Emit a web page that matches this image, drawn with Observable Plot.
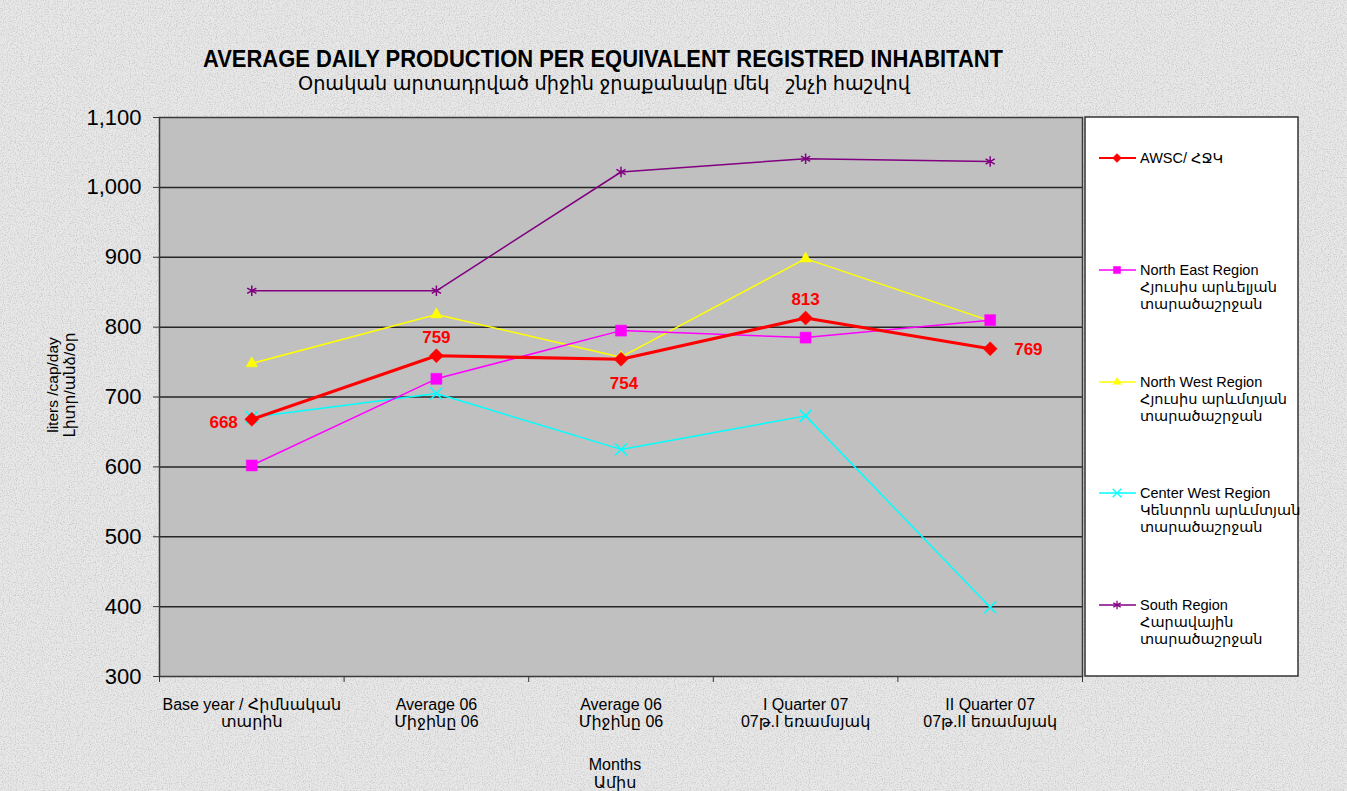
<!DOCTYPE html>
<html><head><meta charset="utf-8">
<script src="https://cdn.jsdelivr.net/npm/d3@7"></script>
<script src="https://cdn.jsdelivr.net/npm/@observablehq/plot@0.6"></script>
<style>
html,body{margin:0;padding:0;width:1347px;height:791px;overflow:hidden;background:#e4e4e4;}
#wrap{position:relative;width:1347px;height:791px;}
#wrap > svg{position:absolute;left:0;top:0;}
text{white-space:pre;}
</style></head><body><div id="wrap"></div>
<script>
// ---- data ----
const categories = [
  "Base year / Հիմնական\nտարին",
  "Average 06\nՄիջինը 06",
  "Average 06\nՄիջինը 06",
  "I Quarter 07\n07թ.I եռամսյակ",
  "II Quarter 07\n07թ.II եռամսյակ"
];
const awsc       = [668, 759, 754, 813, 769];
const northEast  = [602, 726, 795, 785, 810];
const northWest  = [748, 818, 757, 898, 809];
const centerWest = [671, 705, 625, 673, 399];
const south      = [852, 852, 1022, 1041, 1037];
const yTicks = [300, 400, 500, 600, 700, 800, 900, 1000, 1100];
const seriesNames = [
  ["AWSC/ ՀՋԿ"],
  ["North East Region", "Հյուսիս արևելյան", "տարածաշրջան"],
  ["North West Region", "Հյուսիս արևմտյան", "տարածաշրջան"],
  ["Center West Region", "Կենտրոն արևմտյան", "տարածաշրջան"],
  ["South Region", "Հարավային", "տարածաշրջան"]
];
const titleLines = ["AVERAGE DAILY PRODUCTION PER EQUIVALENT REGISTRED INHABITANT", "Օրական արտադրված միջին ջրաքանակը մեկ   շնչի հաշվով"];
const yLabel = ["liters /cap/day", "Լիտր/անձ/օր"];
const xLabel = ["Months", "Ամիս"];

// ---- styles ----
const styles = [
  {values: awsc,       color: "#ff0000", symbol: "diamond2", filled: true,  r: 6.3, w: 3.2, lr: 4},
  {values: northEast,  color: "#ff00ff", symbol: "square",   filled: true,  r: 6.2, w: 1.5, lr: 4},
  {values: northWest,  color: "#ffff00", symbol: "triangle", filled: true,  r: 4.3, w: 1.5, lr: 3},
  {values: centerWest, color: "#00ffff", symbol: "times",    filled: false, r: 5.5, w: 1.5, lr: 4},
  {values: south,      color: "#800080", symbol: "asterisk", filled: false, r: 5,   w: 1.5, lr: 4}
];
const FONT = "'Liberation Sans', Arial, 'DejaVu Sans', sans-serif";

const wrap = d3.select("#wrap");

// background texture
const bg = wrap.append("svg").attr("width", 1347).attr("height", 791);
const f = bg.append("defs").append("filter").attr("id", "noise").attr("x", 0).attr("y", 0).attr("width", "100%").attr("height", "100%")
  .attr("filterUnits", "userSpaceOnUse");
f.append("feTurbulence").attr("type", "fractalNoise").attr("baseFrequency", 0.85).attr("numOctaves", 2).attr("seed", 4);
f.append("feColorMatrix").attr("type", "matrix").attr("values", "0 0 0 0 0.6  0 0 0 0 0.6  0 0 0 0 0.6  3 0 0 0 -1.35");
bg.append("rect").attr("width", 1347).attr("height", 791).attr("fill", "#e8e8e8");
bg.append("rect").attr("width", 1347).attr("height", 791).attr("fill", "#fff").attr("filter", "url(#noise)");

// ---- chart ----
const rowsOf = (s) => s.values.map((v, i) => ({i, x: i + 0.5, y: v}));
const lineMarks = [];
[4, 3, 2, 1, 0].forEach(k => {
  const s = styles[k];
  const data = rowsOf(s);
  lineMarks.push(Plot.line(data, {x: "x", y: "y", stroke: s.color, strokeWidth: s.w}));
  lineMarks.push(Plot.dot(data, {x: "x", y: "y", symbol: s.symbol, r: s.r,
    fill: s.filled ? s.color : "none", stroke: s.color, strokeWidth: s.filled ? 0.5 : 1.5}));
});
const awscRows = rowsOf(styles[0]);
const placement = ["left", "top", "bottom", "top", "right"];
const lab = (p, opts) => Plot.text(awscRows.filter(d => placement[d.i] === p),
  {x: "x", y: "y", text: d => String(d.y), fill: "#ff0000", fontWeight: "bold", fontSize: 17, ...opts});

const plot = Plot.plot({
  width: 1347, height: 791,
  marginLeft: 159, marginRight: 1347 - 1082, marginTop: 117, marginBottom: 791 - 676,
  style: {background: "transparent", fontFamily: FONT, fontSize: "16px", color: "#000", overflow: "visible"},
  x: {type: "linear", domain: [0, categories.length], axis: null},
  y: {domain: [300, 1100], axis: null},
  marks: [
    Plot.frame({fill: "#c0c0c0"}),
    Plot.ruleY(yTicks.slice(1, -1), {stroke: "#262626", strokeWidth: 1.5}),
    Plot.frame({stroke: "#3a3a3a", strokeWidth: 1.5}),
    Plot.axisY({ticks: yTicks, tickFormat: d3.format(","), tickSize: 6, tickPadding: 12, fontSize: 22, stroke: "#333", label: null}),
    Plot.axisX({ticks: d3.range(categories.length + 1), tickSize: 6, tickFormat: () => "", stroke: "#333", label: null}),
    Plot.axisX({ticks: d3.range(categories.length).map(i => i + 0.5), tickSize: 0, tickPadding: 21, label: null,
      tickFormat: d => categories[Math.floor(d)], fontSize: 16, lineHeight: 1.08}),
    ...lineMarks,
    lab("left",   {textAnchor: "end",   dx: -14, dy: 3}),
    lab("top",    {dy: -18}),
    lab("bottom", {dy: 24, dx: 3}),
    lab("right",  {textAnchor: "start", dx: 24, dy: 1})
  ]
});
wrap.node().appendChild(plot);

// ---- overlay: title, axis titles, legend ----
const ov = wrap.append("svg").attr("width", 1347).attr("height", 791).style("font-family", FONT);
ov.append("text").attr("x", 203).attr("y", 67).attr("font-size", 23).attr("font-weight", "bold")
  .attr("textLength", 800).attr("lengthAdjust", "spacingAndGlyphs").text(titleLines[0]);
ov.append("text").attr("x", 298).attr("y", 90).attr("font-size", 20)
  .attr("textLength", 612).attr("lengthAdjust", "spacingAndGlyphs").text(titleLines[1]);

yLabel.forEach((t, j) => {
  ov.append("text").attr("transform", `translate(${58 + j * 17},385) rotate(-90)`)
    .attr("text-anchor", "middle").attr("font-size", 15.5).text(t);
});
xLabel.forEach((t, j) => {
  ov.append("text").attr("x", 615).attr("y", 770 + j * 18).attr("text-anchor", "middle").attr("font-size", 16).text(t);
});

ov.append("rect").attr("x", 1085).attr("y", 117).attr("width", 213).attr("height", 559)
  .attr("fill", "#fff").attr("stroke", "#333").attr("stroke-width", 1.5);
const symMap = {diamond2: d3.symbolDiamond2, square: d3.symbolSquare, triangle: d3.symbolTriangle, times: d3.symbolTimes, asterisk: d3.symbolAsterisk};
const legendY = [158, 270, 382, 493, 605];
styles.forEach((s, k) => {
  const y = legendY[k];
  ov.append("line").attr("x1", 1099).attr("x2", 1136).attr("y1", y).attr("y2", y)
    .attr("stroke", s.color).attr("stroke-width", k === 0 ? 2 : 1.5);
  ov.append("path").attr("transform", `translate(1117,${y})`)
    .attr("d", d3.symbol(symMap[s.symbol], s.lr * s.lr * Math.PI)())
    .attr("fill", s.filled ? s.color : "none").attr("stroke", s.color).attr("stroke-width", s.filled ? 0.5 : 1.3);
  seriesNames[k].forEach((t, j) => {
    ov.append("text").attr("x", 1140).attr("y", y + 5 + j * 16.8).attr("font-size", 14.5).text(t);
  });
});
</script></body></html>
